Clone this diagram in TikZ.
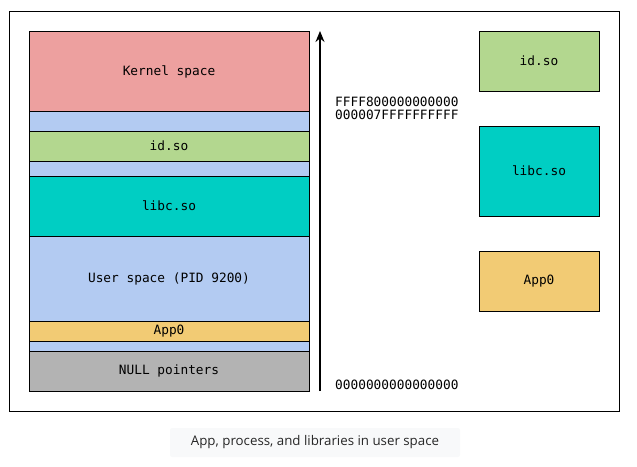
\documentclass[tikz,border=0pt]{standalone}
\usepackage{fontspec}
\setmonofont{DejaVu Sans Mono}
\newfontfamily\capfont{Open Sans}
\usetikzlibrary{arrows.meta}

\definecolor{kernelred}{HTML}{EDA09F}
\definecolor{userblue}{HTML}{B3CBF2}
\definecolor{idgreen}{HTML}{B3D78F}
\definecolor{libcteal}{HTML}{00CEC3}
\definecolor{appyellow}{HTML}{F2CB74}
\definecolor{nullgray}{HTML}{B3B3B3}
\definecolor{capgray}{HTML}{F8F9FA}

\tikzset{
  seg/.style={draw=black, line width=0.8pt, inner sep=0pt, minimum width=280pt,
    font=\ttfamily\fontsize{12.8}{14}\selectfont},
  lib/.style={seg, minimum width=120pt},
  addr/.style={anchor=west, inner sep=0pt, align=left,
    font=\ttfamily\fontsize{12.8}{13}\selectfont}
}

\begin{document}
\begin{tikzpicture}[x=1pt, y=-1pt]
\useasboundingbox (0,0) rectangle (637,466);

\draw [black, line width=0.8pt](9,11) rectangle (619,411);

% memory layout, top to bottom
\node[seg, fill=kernelred, minimum height=80pt] (kernel) at (169,71.5) {Kernel space};
\node[seg, fill=userblue, minimum height=20pt] (gapa) at (169,121) {};
\node[seg, fill=idgreen, minimum height=30pt] (idso) at (169,146) {id.so};
\node[seg, fill=userblue, minimum height=15pt] (gapb) at (169,168.5) {};
\node[seg, fill=libcteal, minimum height=60pt] (libc) at (169,206) {libc.so};
\node[seg, fill=userblue, minimum height=85pt] (user) at (169,278.5) {User space (PID 9200)};
\node[seg, fill=appyellow, minimum height=20pt] (app) at (169,331) {App0};
\node[seg, fill=userblue, minimum height=10pt] (gapc) at (169,346) {};
\node[seg, fill=nullgray, minimum height=40pt] (null) at (169,371) {NULL pointers};

% address axis
\coordinate (axbot) at (320,391);
\coordinate (axtop) at (320,31);
\draw [black, line width=1.5pt, -{Stealth[length=11pt, width=9pt]}](axbot) -- (axtop);

\node[addr] (hi) at (335,108.5) {FFFF800000000000\\000007FFFFFFFFFF};
\node[addr] (lo) at (335,385) {0000000000000000};

% loaded images
\node[lib, fill=idgreen, minimum height=60pt] (ridso) at (539,61) {id.so};
\node[lib, fill=libcteal, minimum height=90pt] (rlibc) at (539,171) {libc.so};
\node[lib, fill=appyellow, minimum height=60pt] (rapp) at (539,281) {App0};

% caption
\fill [capgray, rounded corners=2pt](170,428) rectangle (460,457);
\node[font=\capfont\fontsize{13.3}{15}\selectfont, text=black!85] (cap) at (315,442.5) {App, process, and libraries in user space};

\end{tikzpicture}
\end{document}
